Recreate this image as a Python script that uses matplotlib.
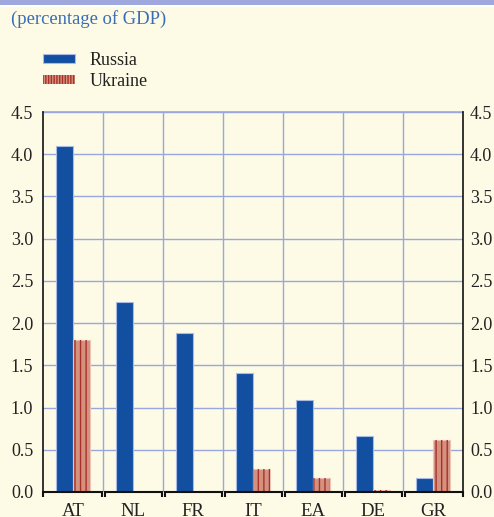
import matplotlib
matplotlib.use("Agg")
import matplotlib.pyplot as plt
import numpy as np
from matplotlib.patches import Rectangle

categories = ["AT", "NL", "FR", "IT", "EA", "DE", "GR"]
russia = [4.1, 2.25, 1.88, 1.41, 1.09, 0.66, 0.16]
ukraine = [1.8, 0.0, 0.0, 0.27, 0.16, 0.02, 0.61]
yticks = [0.0, 0.5, 1.0, 1.5, 2.0, 2.5, 3.0, 3.5, 4.0, 4.5]

BG = "#FDFBE5"
GRID = "#9AA6DE"
BLUE = "#124FA0"
BLUE_EDGE = "#A9BCE6"
SALMON = "#D4917E"
SALMON_EDGE = "#EDC3B8"
HATCH = "#A8322A"

plt.rcParams["font.family"] = ["Liberation Serif", "DejaVu Serif"]
plt.rcParams["hatch.linewidth"] = 1.0

fig = plt.figure(figsize=(4.94, 5.17), dpi=100, facecolor=BG)
W, H = 494, 517
ax = fig.add_axes([43 / W, 1 - 492 / H, (463 - 43) / W, (492 - 112) / H])
ax.set_facecolor(BG)

# top band
fig.patches.append(Rectangle((0, 1 - 4.5 / H), 1, 4.5 / H, transform=fig.transFigure,
                             facecolor="#9EA8DC", edgecolor="none", zorder=0))
fig.patches.append(Rectangle((0, 1 - 6.5 / H), 1, 2 / H, transform=fig.transFigure,
                             facecolor="white", edgecolor="none", zorder=0))

x = np.arange(len(categories))
bw = 0.28
ax.bar(x - bw / 2, russia, width=bw, color=BLUE, edgecolor=BLUE_EDGE, linewidth=0.8,
       zorder=3, label="Russia")
ax.bar(x + bw / 2, ukraine, width=bw, color=SALMON, edgecolor=SALMON_EDGE, linewidth=0.8,
       zorder=3)
ax.bar(x + bw / 2, ukraine, width=bw, color="none", edgecolor=HATCH, linewidth=0,
       hatch="|||", zorder=4)

ax.set_xlim(-0.5, len(categories) - 0.5)
ax.set_ylim(0, 4.5)
ax.set_yticks(yticks)
ax.set_yticklabels([f"{v:.1f}" for v in yticks])
ax.tick_params(axis="y", length=0, labelsize=13, pad=7, colors="#222222")
ax.set_xticks(x)
ax.set_xticklabels(categories)
ax.tick_params(axis="x", length=0, labelsize=13.5, pad=8, colors="#222222")

ax2 = ax.twinx()
ax2.set_ylim(0, 4.5)
ax2.set_yticks(yticks)
ax2.set_yticklabels([f"{v:.1f}" for v in yticks])
ax2.tick_params(axis="y", length=0, labelsize=13, pad=5, colors="#222222")
for s in ["top", "bottom", "left", "right"]:
    ax2.spines[s].set_visible(False)

ax.grid(True, axis="y", color=GRID, linewidth=1.0, zorder=0)
for b in np.arange(0.5, len(categories) - 0.5, 1):
    ax.axvline(b, color=GRID, linewidth=1.0, zorder=0)
ax.axhline(4.5, color=GRID, linewidth=1.2, zorder=1, clip_on=False)

for s in ["top", "bottom"]:
    ax.spines[s].set_visible(False)
ax.spines["left"].set_color("#111111")
ax.spines["right"].set_color("#111111")
ax.spines["left"].set_linewidth(1.2)
ax.spines["right"].set_linewidth(1.2)

# bracket-style x axis segments
trans = ax.get_xaxis_transform()
gap = 0.025
tick = 5 / (492 - 112)
for i in range(len(categories)):
    l = i - 0.5 + gap
    r = i + 0.5 - gap
    if i == 0:
        l = -0.5
    if i == len(categories) - 1:
        r = len(categories) - 0.5
    ax.plot([l, l, r, r], [-tick, 0, 0, -tick], color="#111111", lw=1.5, transform=trans,
            clip_on=False, zorder=5, solid_capstyle="butt", solid_joinstyle="miter")

fig.text(11 / W, 1 - 19 / H, "(percentage of GDP)", color="#3A6CB7", fontsize=13.4,
         va="center", ha="left")

# legend
handles = [Rectangle((0, 0), 1, 1, facecolor=BLUE, edgecolor=BLUE_EDGE, lw=0.8),
           Rectangle((0, 0), 1, 1, facecolor=SALMON, edgecolor=HATCH, lw=0, hatch="||||||")]
leg = fig.legend(handles, ["Russia", "Ukraine"], loc="upper left",
                 bbox_to_anchor=(36 / W, 1 - 45 / H), frameon=False, fontsize=13,
                 handlelength=1.75, handleheight=0.35, handletextpad=0.8,
                 labelspacing=0.22, borderaxespad=0)
for t in leg.get_texts():
    t.set_color("#222222")

fig.savefig("out.png", dpi=100, facecolor=BG)
